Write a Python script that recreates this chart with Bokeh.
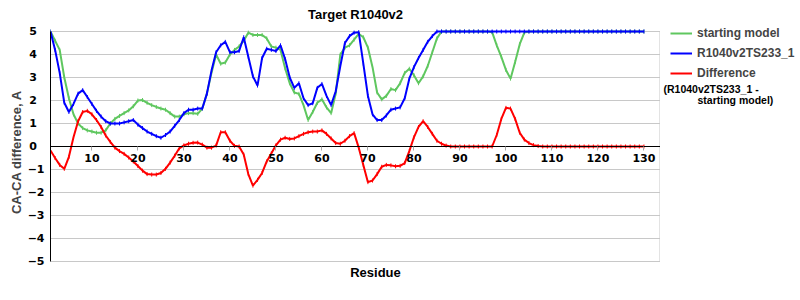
import math
from bokeh.plotting import figure
from bokeh.layouts import row
from bokeh.models import Range1d, FixedTicker, Legend, LegendItem, Label, Title
from bokeh.embed import file_html
from bokeh.resources import INLINE

residue = list(range(1, 131))

starting_model = [
    5.0, 4.6, 4.2, 3.0, 2.1, 1.4, 1.0, 0.8, 0.7, 0.65,
    0.6, 0.6, 0.7, 1.0, 1.2, 1.33, 1.45, 1.57, 1.75, 2.0,
    2.02, 1.9, 1.8, 1.72, 1.65, 1.6, 1.45, 1.3, 1.3, 1.4,
    1.45, 1.45, 1.42, 1.65, 2.3, 3.2, 4.0, 3.6, 3.65, 4.0,
    4.2, 4.35, 4.6, 4.95, 4.85, 4.85, 4.85, 4.7, 4.35, 4.3,
    4.2, 3.4, 2.75, 2.35, 2.29, 1.8, 1.15, 1.5, 1.9, 2.05,
    1.7, 1.45, 2.3, 4.0, 4.3, 4.4, 4.65, 4.9, 4.75, 4.3,
    3.45, 2.35, 2.05, 2.2, 2.5, 2.45, 2.75, 3.2, 3.38, 3.1,
    2.75, 3.05, 3.5, 4.1, 4.7, 5.0, 5.0, 5.0, 5.0, 5.0,
    5.0, 5.0, 5.0, 5.0, 5.0, 5.0, 4.97, 4.4, 3.9, 3.33,
    2.95, 3.67, 4.45, 4.95, 5.0, 5.0, 5.0, 5.0, 5.0, 5.0,
    5.0, 5.0, 5.0, 5.0, 5.0, 5.0, 5.0, 5.0, 5.0, 5.0,
    5.0, 5.0, 5.0, 5.0, 5.0, 5.0, 5.0, 5.0, 5.0, 5.0,
]

ts233_1 = [
    5.0, 4.2, 3.2, 1.9, 1.5, 1.85, 2.3, 2.45, 2.15, 1.85,
    1.55, 1.3, 1.1, 1.0, 1.0, 1.0, 1.05, 1.1, 1.15, 0.95,
    0.8, 0.65, 0.55, 0.45, 0.38, 0.5, 0.65, 0.9, 1.15, 1.45,
    1.6, 1.6, 1.65, 1.65, 2.3, 3.3, 4.1, 4.4, 4.55, 4.1,
    4.1, 4.15, 4.75, 3.9, 3.05, 2.65, 3.85, 4.25, 4.2, 4.15,
    4.4, 3.8, 3.0, 2.55, 2.75, 2.1, 1.8, 1.88, 2.55, 2.72,
    2.2, 1.8, 2.4, 3.5, 4.5, 4.8, 4.95, 4.97, 3.6, 2.2,
    1.4, 1.15, 1.15, 1.35, 1.6, 1.65, 1.7, 2.1, 2.95, 3.45,
    3.85, 4.2, 4.55, 4.8, 5.0, 5.0, 5.0, 5.0, 5.0, 5.0,
    5.0, 5.0, 5.0, 5.0, 5.0, 5.0, 5.0, 5.0, 5.0, 5.0,
    5.0, 5.0, 5.0, 5.0, 5.0, 5.0, 5.0, 5.0, 5.0, 5.0,
    5.0, 5.0, 5.0, 5.0, 5.0, 5.0, 5.0, 5.0, 5.0, 5.0,
    5.0, 5.0, 5.0, 5.0, 5.0, 5.0, 5.0, 5.0, 5.0, 5.0,
]

difference = [
    -0.17, -0.5, -0.8, -0.97, -0.45, 0.4, 1.1, 1.5, 1.55, 1.4,
    1.15, 0.85, 0.48, 0.2, -0.05, -0.2, -0.32, -0.48, -0.65, -0.85,
    -1.05, -1.2, -1.22, -1.22, -1.15, -0.97, -0.7, -0.4, -0.08, 0.05,
    0.12, 0.16, 0.17, 0.08, -0.05, -0.05, 0.04, 0.62, 0.62, 0.25,
    0.03, 0.0, -0.35, -1.2, -1.7, -1.45, -1.15, -0.65, -0.3, 0.05,
    0.3, 0.38, 0.33, 0.35, 0.45, 0.55, 0.62, 0.65, 0.65, 0.7,
    0.55, 0.35, 0.15, 0.12, 0.25, 0.45, 0.58, -0.05, -0.8, -1.55,
    -1.48, -1.2, -0.88, -0.8, -0.82, -0.86, -0.84, -0.72, -0.2, 0.4,
    0.85, 1.1, 0.85, 0.55, 0.25, 0.12, 0.04, 0.0, 0.0, 0.0,
    0.0, 0.0, 0.0, 0.0, 0.0, 0.0, 0.0, 0.5, 1.2, 1.68,
    1.65, 1.2, 0.6, 0.3, 0.15, 0.06, 0.02, 0.0, 0.0, 0.0,
    0.0, 0.0, 0.0, 0.0, 0.0, 0.0, 0.0, 0.0, 0.0, 0.0,
    0.0, 0.0, 0.0, 0.0, 0.0, 0.0, 0.0, 0.0, 0.0, 0.0,
]

x_ticks = [10, 20, 30, 40, 50, 60, 70, 80, 90, 100, 110, 120, 130]
y_ticks = [-5, -4, -3, -2, -1, 0, 1, 2, 3, 4, 5]
y_tick_labels = ["\u22125", "\u22124", "\u22123", "\u22122", "\u22121",
                 "0\u2007", "1\u2007", "2\u2007", "3\u2007", "4\u2007", "5\u2007"]

series_names = ["starting model", "R1040v2TS233_1", "Difference"]
series_colors = ["#5fc75f", "#0000ff", "#ff0000"]
series_values = [starting_model, ts233_1, difference]

TICK_FONT = "DejaVu Sans"
TEXT_FONT = "Liberation Sans"
GRID = "#c8c8c8"

X_START, X_END = 1, 133.6
Y_MIN, Y_MAX = -5, 5
# head-room above and below the plot area so outside texts are not clipped
Y_TOP = 5.348
Y_BOTTOM = -5.826

# ---------------- main chart ----------------
p = figure(width=660, height=300, output_backend="svg", toolbar_location=None,
           title=None,
           x_range=Range1d(X_START, X_END), y_range=Range1d(Y_BOTTOM, Y_TOP),
           min_border_left=50, min_border_right=0,
           min_border_top=23, min_border_bottom=20)
p.background_fill_color = "white"
p.border_fill_color = "white"
p.outline_line_color = None

p.add_layout(Title(text="Target R1040v2", align="center", offset=13, standoff=4,
                   text_font=TEXT_FONT, text_font_style="bold",
                   text_font_size="13px", text_color="black"), "above")

xa = p.xaxis[0]
xa.fixed_location = 0
xa.ticker = FixedTicker(ticks=x_ticks)
xa.axis_line_color = "black"
xa.axis_line_width = 1
xa.major_tick_out = 4
xa.major_tick_in = 0
xa.major_tick_line_color = "#a8a8a8"
xa.minor_tick_line_color = None
xa.major_label_standoff = 3
xa.major_label_text_font = TICK_FONT
xa.major_label_text_font_style = "bold"
xa.major_label_text_font_size = "11px"
xa.major_label_text_color = "black"

ya = p.yaxis[0]
ya.ticker = FixedTicker(ticks=y_ticks)
ya.bounds = (Y_MIN, Y_MAX)
ya.major_label_overrides = {t: s for t, s in zip(y_ticks, y_tick_labels)}
ya.axis_line_color = "black"
ya.major_tick_out = 0
ya.major_tick_in = 0
ya.minor_tick_line_color = None
ya.major_label_standoff = 6
ya.major_label_text_font = TICK_FONT
ya.major_label_text_font_style = "bold"
ya.major_label_text_font_size = "11px"
ya.major_label_text_color = "black"
ya.axis_label = "CA-CA difference, A"
ya.axis_label_text_font = TEXT_FONT
ya.axis_label_text_font_style = "bold"
ya.axis_label_text_font_size = "13px"
ya.axis_label_standoff = 1

p.xgrid.visible = False
p.ygrid.ticker = FixedTicker(ticks=y_ticks)
p.ygrid.grid_line_color = GRID
p.ygrid.grid_line_width = 1

# right-hand border of the plot area
p.segment(x0=[X_END], y0=[Y_MIN], x1=[X_END], y1=[Y_MAX], line_color=GRID, line_width=2)

for vals, col in zip(series_values, series_colors):
    p.line(residue, vals, line_color=col, line_width=2)
    p.scatter(residue, vals, marker="dash", size=4, angle=math.pi / 2,
              line_color=col, line_width=1)

xlabel = Label(x=325, y=8, x_units="screen", y_units="screen", text="Residue",
               text_align="center", text_baseline="middle", text_font=TEXT_FONT,
               text_font_style="bold", text_font_size="13px", text_color="black")
p.add_layout(xlabel)

# ---------------- legend panel ----------------
q = figure(width=140, height=300, output_backend="svg", toolbar_location=None,
           title=None, x_axis_location=None, y_axis_location=None,
           x_range=Range1d(-20, -10), y_range=Range1d(-20, -10),
           min_border=0)
q.outline_line_color = None
q.background_fill_color = "white"
q.border_fill_color = "white"
q.grid.visible = False

items = []
for name, vals, col in zip(series_names, series_values, series_colors):
    ln = q.line(residue, vals, line_color=col, line_width=2)
    sc = q.scatter(residue, vals, marker="dash", size=4, angle=math.pi / 2,
                   line_color=col, line_width=1)
    items.append(LegendItem(label=name, renderers=[ln, sc]))

# frames are aligned in the row: legend panel frame spans y 23..280
legend = Legend(items=items, location=(10, 197), glyph_width=22, glyph_height=20,
                label_height=20, spacing=0, padding=0, margin=0,
                border_line_color=None, background_fill_alpha=0,
                label_text_font=TEXT_FONT, label_text_font_style="bold",
                label_text_font_size="12px", label_standoff=5)
q.add_layout(legend, "center")

sub1 = Label(x=3, y=192, x_units="screen", y_units="screen", text="(R1040v2TS233_1 -",
             text_align="left", text_baseline="middle", text_font=TEXT_FONT,
             text_font_style="bold", text_font_size="10.5px", text_color="black")
sub2 = Label(x=37, y=181, x_units="screen", y_units="screen", text="starting model)",
             text_align="left", text_baseline="middle", text_font=TEXT_FONT,
             text_font_style="bold", text_font_size="10.5px", text_color="black")
q.add_layout(sub1)
q.add_layout(sub2)

layout = row(p, q, spacing=0)
open("out.html", "w").write(file_html(layout, INLINE))
